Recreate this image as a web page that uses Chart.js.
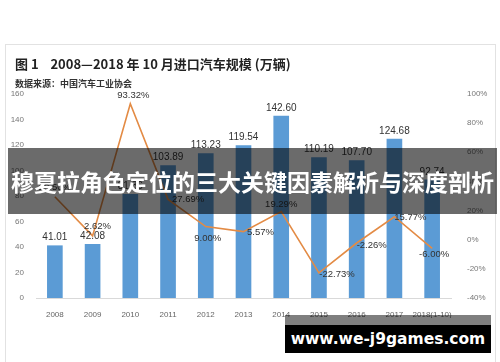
<!DOCTYPE html>
<html>
<head>
<meta charset="utf-8">
<script src="https://cdn.jsdelivr.net/npm/chart.js@4/dist/chart.umd.min.js"></script>
<style>
  html, body { margin: 0; padding: 0; background: #fff; }
  #wrap { position: relative; width: 500px; height: 362px; overflow: hidden; }
  #frame { position: absolute; left: 5px; top: 44px; width: 489px; height: 330px; border: 1px solid #e2e2e2; }
  canvas { position: absolute; left: 0; top: 0; }
  .title { position: absolute; left: 15px; top: 54px; font: bold 13px "Noto Sans CJK SC", sans-serif; color: #222; white-space: pre; }
  .source { position: absolute; left: 15px; top: 77px; font: bold 9px "Noto Sans CJK SC", sans-serif; color: #333; }
  .band { position: absolute; left: 8px; top: 148px; width: 489px; height: 66px; background: rgba(0,0,0,0.58);
          color: #fff; font: bold 23px "Noto Sans CJK SC", sans-serif; line-height: 66px; text-align: center; letter-spacing: 0px; }
  .wm-top { position: absolute; left: 285px; top: 315px; width: 206px; height: 10px; background: rgba(0,0,0,0.5); }
  .wm { position: absolute; left: 285px; top: 325px; width: 206px; height: 28px; background: #000; color: #fff;
        font: bold 15.5px "DejaVu Sans", sans-serif; line-height: 28px; text-align: center; }
</style>
</head>
<body>
<div id="wrap">
  <div id="frame"></div>
  <canvas id="combo-chart" width="500" height="362"></canvas>
  <div class="title">图 1    2008—2018 年 10 月进口汽车规模 (万辆)</div>
  <div class="source">数据来源：中国汽车工业协会</div>
  <div class="band">穆夏拉角色定位的三大关键因素解析与深度剖析</div>
  <div class="wm-top"></div>
  <div class="wm">www.we-j9games.com</div>
</div>
<script>
const years = ['2008', '2009', '2010', '2011', '2012', '2013', '2014', '2015', '2016', '2017', '2018(1-10)'];
const imports = [41.01, 42.08, 81.36, 103.89, 113.23, 119.54, 142.60, 110.19, 107.70, 124.68, 92.74];
const growth = [29.5, 2.62, 93.32, 27.69, 9.00, 5.57, 19.29, -22.73, -2.26, 15.77, -6.00];

// label offsets for the growth line (dx, dy from point)
const growthOffsets = [[0, -9], [5, -10], [3, -8], [20, 0], [2, 12], [17, 1], [0, -7], [18, 2], [15, 2], [16, 1], [2, 6]];

const labelPlugin = {
    id: 'valueLabels',
    afterDatasetsDraw(chart) {
        const ctx = chart.ctx;
        ctx.save();
        ctx.fillStyle = '#333';
        ctx.font = '10px "Liberation Sans", Arial, sans-serif';
        ctx.textAlign = 'center';
        ctx.textBaseline = 'bottom';
        chart.getDatasetMeta(0).data.forEach((bar, i) => {
            ctx.fillText(imports[i].toFixed(2), bar.x, bar.y - 3);
        });
        ctx.font = '9.5px "Liberation Sans", Arial, sans-serif';
        ctx.textBaseline = 'middle';
        chart.getDatasetMeta(1).data.forEach((pt, i) => {
            const [dx, dy] = growthOffsets[i];
            ctx.fillText(growth[i].toFixed(2) + '%', pt.x + dx, pt.y + dy);
        });
        ctx.restore();
    }
};

const tickFont = {family: '"Liberation Sans", Arial, sans-serif', size: 8};

new Chart('combo-chart', {
    data: {
        labels: years,
        datasets: [{
            type: 'bar',
            data: imports,
            backgroundColor: '#5b9bd5',
            barThickness: 15,
            yAxisID: 'y',
            order: 1
        }, {
            type: 'line',
            data: growth,
            borderColor: '#e38b45',
            borderWidth: 1.6,
            pointRadius: 0,
            tension: 0,
            yAxisID: 'y1',
            order: 0
        }]
    },
    options: {
        responsive: false,
        animation: false,
        layout: {padding: {top: 94, bottom: 44, left: 0, right: 0}},
        plugins: {legend: {display: false}, tooltip: {enabled: false}},
        scales: {
            x: {
                grid: {display: false},
                border: {color: '#d9d9d9'},
                ticks: {font: tickFont, color: '#666', padding: 4, maxRotation: 0, autoSkip: false},
                afterFit(scale) { scale.height = 20; }
            },
            y: {
                position: 'left',
                min: 0, max: 160,
                grid: {display: false},
                border: {display: false},
                ticks: {stepSize: 20, font: tickFont, color: '#777', padding: 4},
                afterFit(scale) { scale.width = 36; }
            },
            y1: {
                position: 'right',
                min: -40, max: 100,
                grid: {display: false},
                border: {display: false},
                ticks: {stepSize: 20, font: tickFont, color: '#777', padding: 8, callback: v => v + '%'},
                afterFit(scale) { scale.width = 49; }
            }
        }
    },
    plugins: [labelPlugin]
});
</script>
</body>
</html>
